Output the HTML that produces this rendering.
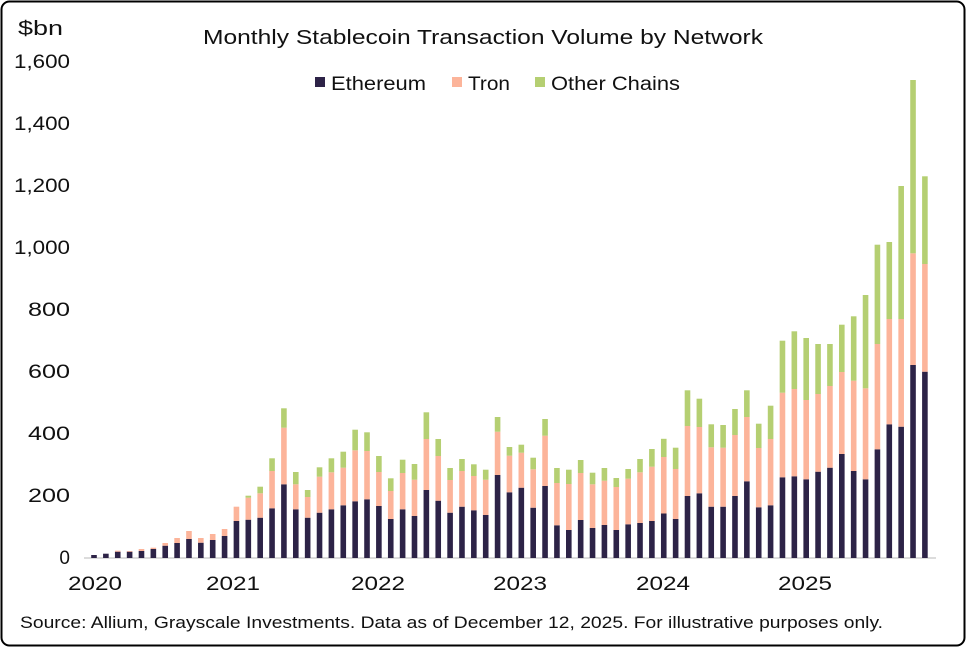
<!DOCTYPE html>
<html><head><meta charset="utf-8"><style>
html,body{margin:0;padding:0;background:#fff;}
svg{display:block;font-family:"Liberation Sans",sans-serif;}
</style></head><body>
<svg id="c" width="966" height="647" viewBox="0 0 966 647" xmlns="http://www.w3.org/2000/svg">
<rect x="1.5" y="1.5" width="963" height="644" rx="8" ry="8" fill="#fff" stroke="#000" stroke-width="2"/>
<text x="18" y="35" font-size="20" fill="#111" textLength="45" lengthAdjust="spacingAndGlyphs">$bn</text>
<text x="203" y="44" font-size="20" fill="#111" textLength="560" lengthAdjust="spacingAndGlyphs">Monthly Stablecoin Transaction Volume by Network</text>
<rect x="315" y="77" width="10" height="10" fill="#2d2347"/>
<text x="331" y="90" font-size="19" fill="#111" textLength="95" lengthAdjust="spacingAndGlyphs">Ethereum</text>
<rect x="452" y="77" width="10" height="10" fill="#fcb49a"/>
<text x="468" y="90" font-size="19" fill="#111" textLength="42" lengthAdjust="spacingAndGlyphs">Tron</text>
<rect x="535" y="77" width="10" height="10" fill="#b5cf72"/>
<text x="551" y="90" font-size="19" fill="#111" textLength="129" lengthAdjust="spacingAndGlyphs">Other Chains</text>
<g font-size="19" fill="#111" text-anchor="end">
<text x="70" y="564">0</text>
<text x="70" y="502" textLength="42" lengthAdjust="spacingAndGlyphs">200</text>
<text x="70" y="440" textLength="42" lengthAdjust="spacingAndGlyphs">400</text>
<text x="70" y="378" textLength="42" lengthAdjust="spacingAndGlyphs">600</text>
<text x="70" y="316" textLength="42" lengthAdjust="spacingAndGlyphs">800</text>
<text x="70" y="254" textLength="56" lengthAdjust="spacingAndGlyphs">1,000</text>
<text x="70" y="192" textLength="56" lengthAdjust="spacingAndGlyphs">1,200</text>
<text x="70" y="130" textLength="56" lengthAdjust="spacingAndGlyphs">1,400</text>
<text x="70" y="68" textLength="56" lengthAdjust="spacingAndGlyphs">1,600</text>
</g>
<g font-size="19" fill="#111" text-anchor="middle">
<text x="95" y="590" textLength="54" lengthAdjust="spacingAndGlyphs">2020</text>
<text x="233" y="590" textLength="54" lengthAdjust="spacingAndGlyphs">2021</text>
<text x="378" y="590" textLength="54" lengthAdjust="spacingAndGlyphs">2022</text>
<text x="520" y="590" textLength="54" lengthAdjust="spacingAndGlyphs">2023</text>
<text x="663" y="590" textLength="54" lengthAdjust="spacingAndGlyphs">2024</text>
<text x="805" y="590" textLength="54" lengthAdjust="spacingAndGlyphs">2025</text>
</g>
<line x1="84" y1="558" x2="936" y2="558" stroke="#d0d0d0" stroke-width="1.5"/>
<g id="bars"></g>
<text x="20" y="628" font-size="16.5" fill="#111" textLength="863" lengthAdjust="spacingAndGlyphs">Source: Allium, Grayscale Investments. Data as of December 12, 2025. For illustrative purposes only.</text>
</svg>
<script>
var d=[[555,555,555],[553.7,553.7,553.7],[551.7,550.7,550.7],[551.7,551,551],[551,549,549],[549,547.7,547.7],[545.7,543,543],[543,538,538],[539,531,531],[542.7,538,538],[540,534,534],[536,529,529],
[521,506.7,506.7],[519.7,497.7,495.7],[517.7,493.3,486.7],[508.3,471,458.3],[484.3,427.7,408.3],[509.3,484.3,472],[517.7,497,490],[512.7,476.7,467.3],[509.3,472.3,458.3],[505.3,467.7,451.7],[501.3,450.3,429.7],[499.3,451,432.3],
[506,472,456],[519,491,478.3],[509.3,473,459.7],[516,479.7,464],[490,439,412.3],[500.7,456,439],[512.7,480,468],[506.7,471,459],[510.3,476,464.3],[515,479.7,469.7],[475,431.7,417],[492.3,455.7,447],
[487.7,452.7,444.7],[507.7,469.3,457.7],[486,435.7,419],[525.3,483,468],[530,484,469.7],[520,473,460],[528,484.3,472.7],[525,480.7,468],[530,487,478],[524.3,478.7,469],[523,472.3,459],[521,466.7,449],
[513.5,457,438.8],[519,469,447.7],[496,426,390.3],[493.3,427,398.7],[506.7,447.3,424.3],[506.7,447.7,425],[496,435,409],[481.3,417,390.3],[507.3,448,423.7],[505.3,439,405.7],[477.3,392.7,340.7],[476.3,389,331.3],
[479.3,400,338],[471.7,394,344],[467.7,386,344],[454,372,324.7],[471,380.7,316.3],[479.3,388.3,295],[449.3,344,244.7],[424.3,319,242],[426.7,319,186],[365,253.3,80],[371.7,264,176.3]];
var g=document.getElementById('bars'),s='',B=558,w=5.6;
d.forEach(function(v,i){var x=(94+i*11.87-w/2).toFixed(2);
s+='<rect x="'+x+'" y="'+v[0]+'" width="'+w+'" height="'+(B-v[0]).toFixed(2)+'" fill="#2d2347"/>';
if(v[0]-v[1]>0.1)s+='<rect x="'+x+'" y="'+v[1]+'" width="'+w+'" height="'+(v[0]-v[1]).toFixed(2)+'" fill="#fcb49a"/>';
if(v[1]-v[2]>0.1)s+='<rect x="'+x+'" y="'+v[2]+'" width="'+w+'" height="'+(v[1]-v[2]).toFixed(2)+'" fill="#b5cf72"/>';});
g.innerHTML=s;
</script>
</body></html>
